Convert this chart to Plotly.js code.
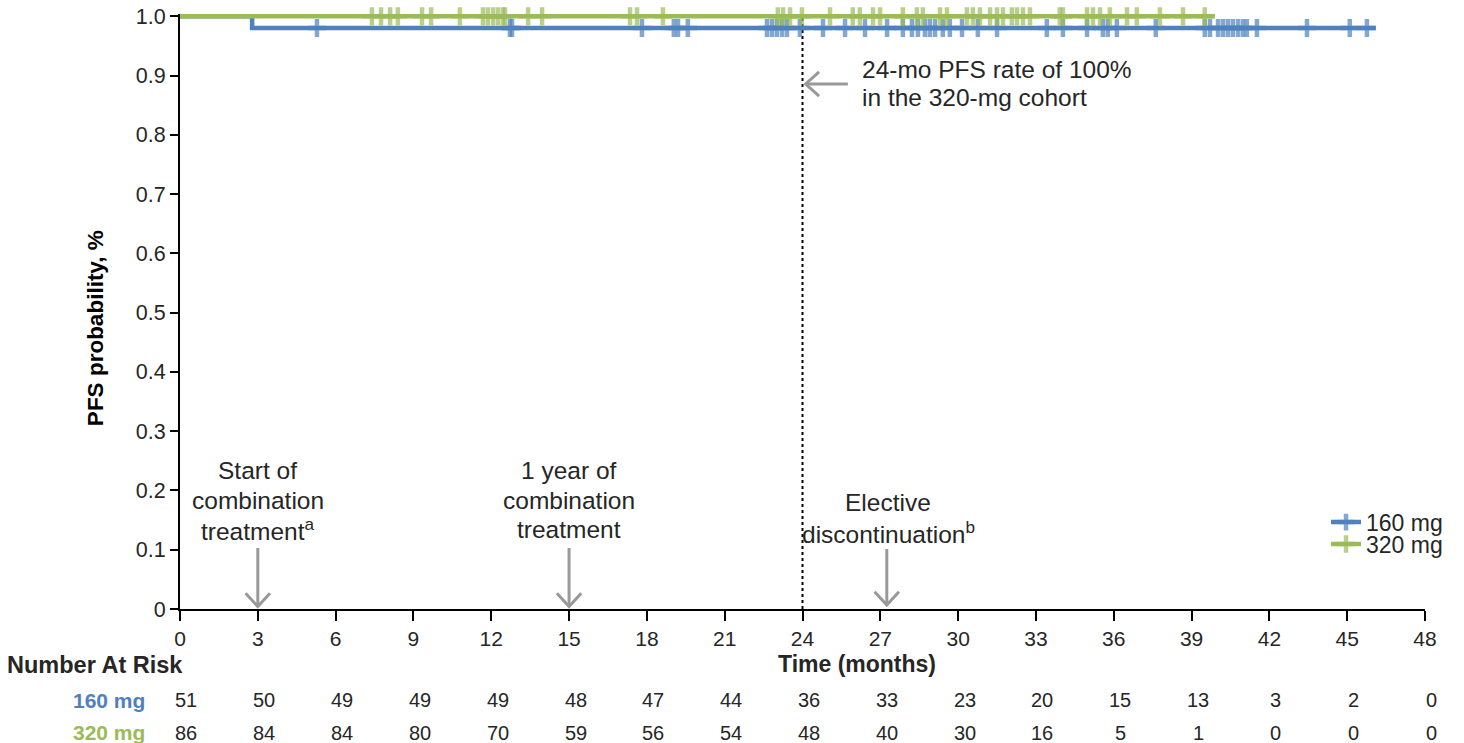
<!DOCTYPE html>
<html>
<head>
<meta charset="utf-8">
<script src="https://cdn.plot.ly/plotly-3.0.1.min.js"></script>
<style>html,body{margin:0;padding:0;background:#fff;}#chart{width:1464px;height:743px;}</style>
</head>
<body>
<div id="chart"></div>
<script>
// ---- data ----
const months = [0,3,6,9,12,15,18,21,24,27,30,33,36,39,42,45,48];
const yTickVals = [0,0.1,0.2,0.3,0.4,0.5,0.6,0.7,0.8,0.9,1.0];
const yTickText = ['0','0.1','0.2','0.3','0.4','0.5','0.6','0.7','0.8','0.9','1.0'];
const seriesNames = ['160 mg','320 mg'];
const risk160 = [51,50,49,49,49,48,47,44,36,33,23,20,15,13,3,2,0];
const risk320 = [86,84,84,80,70,59,56,54,48,40,30,16,5,1,0,0,0];

const eventTimes160 = [2.78];
const survival160 = [0.9804];
const censor160 = [5.28,12.72,12.80,17.81,19.04,19.20,19.58,22.63,22.82,23.01,23.21,23.40,23.90,24.79,25.64,26.41,27.26,27.87,28.22,28.45,28.72,28.91,29.11,29.41,29.68,30.15,30.76,31.50,33.42,34.04,34.97,35.58,35.77,36.12,37.62,39.51,39.71,40.02,40.21,40.40,40.59,40.79,40.98,41.13,41.52,43.45,45.10,45.76];
const lastTime160 = 46.1;

const eventTimes320 = [];
const survival320 = [];
const censor320 = [7.40,7.75,8.10,8.40,9.33,9.68,10.79,11.68,11.87,12.07,12.26,12.45,12.53,13.42,13.96,17.35,17.62,18.62,23.05,23.25,23.52,23.98,25.06,25.94,26.21,26.72,26.99,27.87,28.41,28.64,29.30,29.57,30.34,30.57,30.84,31.23,31.50,31.73,32.07,32.27,32.50,32.77,33.92,34.04,34.97,35.20,35.47,35.85,36.51,36.89,37.78,38.67,39.51];
const lastTime320 = 39.9;

const BLUE = '#4F81BD';
const GREEN = '#9BBB59';
const FONT = 'Liberation Sans, Arial, Helvetica, sans-serif';
const TXT = '#262626';
const ARROW = '#999999';

function survAt(t, ev, sv) {
  let s = 1;
  for (let i = 0; i < ev.length; i++) if (ev[i] <= t) s = sv[i];
  return s;
}
function buildKM(ev, sv, cens, last) {
  const pts = [{x: 0, y: 1, s: 0, o: 0}];
  ev.forEach((t, i) => {
    pts.push({x: t, y: i ? sv[i - 1] : 1, s: 0, o: 0});
    pts.push({x: t, y: sv[i], s: 0, o: 1});
  });
  cens.forEach(t => pts.push({x: t, y: survAt(t, ev, sv), s: 13, o: 2}));
  pts.push({x: last, y: survAt(last, ev, sv), s: 0, o: 3});
  pts.sort((a, b) => a.x - b.x || a.o - b.o);
  return pts;
}
function kmTrace(name, color, ev, sv, cens, last, legendId) {
  const p = buildKM(ev, sv, cens, last);
  return {
    type: 'scatter', mode: 'lines+markers', name: name, legend: legendId,
    x: p.map(d => d.x), y: p.map(d => d.y),
    line: {color: color, width: 4.5},
    marker: {symbol: 'cross-thin-open', size: p.map(d => d.s), color: color, line: {width: 4.5, color: color}},
    cliponaxis: false, hoverinfo: 'skip'
  };
}

const traces = [
  kmTrace(seriesNames[0], BLUE, eventTimes160, survival160, censor160, lastTime160, 'legend'),
  kmTrace(seriesNames[1], GREEN, eventTimes320, survival320, censor320, lastTime320, 'legend2')
];

const annotations = [];
// risk table
const rowY = [-0.153, -0.208];
[risk160, risk320].forEach((row, r) => {
  row.forEach((v, i) => {
    annotations.push({xref: 'paper', yref: 'paper', x: (months[i] + 0.25) / 48, y: rowY[r], text: String(v),
      showarrow: false, xanchor: 'center', yanchor: 'middle', font: {family: FONT, size: 20, color: TXT}});
  });
});
annotations.push({xref: 'paper', yref: 'paper', x: -0.0265, y: rowY[0], text: '<b>' + seriesNames[0] + '</b>', showarrow: false,
  xanchor: 'right', yanchor: 'middle', font: {family: FONT, size: 21, color: BLUE}});
annotations.push({xref: 'paper', yref: 'paper', x: -0.0265, y: rowY[1], text: '<b>' + seriesNames[1] + '</b>', showarrow: false,
  xanchor: 'right', yanchor: 'middle', font: {family: FONT, size: 21, color: GREEN}});
annotations.push({xref: 'paper', yref: 'paper', x: -0.1406, y: -0.094, text: '<b>Number At Risk</b>', showarrow: false,
  xanchor: 'left', yanchor: 'middle', font: {family: FONT, size: 23.5, color: TXT}});
annotations.push({xref: 'paper', yref: 'paper', x: 0.5438, y: -0.093, text: '<b>Time (months)</b>', showarrow: false,
  xanchor: 'center', yanchor: 'middle', font: {family: FONT, size: 23, color: TXT}});
// y-axis title
annotations.push({xref: 'paper', yref: 'paper', x: -0.0683, y: 0.472, text: '<b>PFS probability, %</b>', showarrow: false,
  textangle: -90, xanchor: 'center', yanchor: 'middle', font: {family: FONT, size: 22.5, color: '#000'}});

// text notes, one line each
const noteFont = {family: FONT, size: 24.5, color: TXT};
function note(x, y, text, anchor) {
  annotations.push({xref: 'x', yref: 'y', x: x, y: y, text: text, showarrow: false,
    xanchor: anchor || 'center', yanchor: 'middle', font: noteFont});
}
note(3, 0.2329, 'Start of');
note(3, 0.1839, 'combination');
note(3, 0.1350, 'treatment<sup>a</sup>');
note(15, 0.2329, '1 year of');
note(15, 0.1839, 'combination');
note(15, 0.1350, 'treatment');
note(27.3, 0.1789, 'Elective');
note(27.3, 0.1299, 'discontinuation<sup>b</sup>');
note(26.2, 0.9096, '24-mo PFS rate of 100%', 'left');
note(26.2, 0.8623, 'in the 320-mg cohort', 'left');

// arrows as shapes
const shapes = [{type: 'line', xref: 'x', yref: 'y', x0: 24, x1: 24, y0: 0, y1: 1.0,
  line: {color: '#000', width: 2, dash: 'dot'}, layer: 'below'}];
function downArrow(x, yTail, yTip) {
  shapes.push({type: 'line', xref: 'x', yref: 'y', x0: x, x1: x, y0: yTail, y1: yTip + 0.002, line: {color: ARROW, width: 3}});
  shapes.push({type: 'path', xref: 'x', yref: 'y',
    path: `M${x - 0.47},${yTip + 0.0225} L${x},${yTip} L${x + 0.47},${yTip + 0.0225}`, line: {color: ARROW, width: 3}});
}
function leftArrow(xTip, xTail, y) {
  shapes.push({type: 'line', xref: 'x', yref: 'y', x0: xTail, x1: xTip + 0.05, y0: y, y1: y, line: {color: ARROW, width: 3}});
  shapes.push({type: 'path', xref: 'x', yref: 'y',
    path: `M${xTip + 0.52},${y + 0.0205} L${xTip},${y} L${xTip + 0.52},${y - 0.0205}`, line: {color: ARROW, width: 3}});
}
downArrow(3, 0.1029, 0.004);
downArrow(15, 0.1029, 0.004);
downArrow(27.25, 0.1012, 0.0067);
leftArrow(24.12, 25.75, 0.8859);

const legendBase = {xanchor: 'left', yanchor: 'middle', bgcolor: 'rgba(0,0,0,0)',
  font: {family: FONT, size: 23, color: TXT}, itemwidth: 30, borderwidth: 0};

const layout = {
  width: 1464, height: 743,
  margin: {l: 180, r: 39, t: 14, b: 134},
  paper_bgcolor: '#fff', plot_bgcolor: '#fff',
  font: {family: FONT, size: 21, color: TXT},
  showlegend: true,
  legend: Object.assign({x: 0.9205, y: 0.146}, legendBase),
  legend2: Object.assign({x: 0.9205, y: 0.109}, legendBase),
  xaxis: {range: [0, 48], tickvals: months, ticktext: months.map(String), ticks: 'outside', ticklen: 10, tickwidth: 2,
    tickcolor: '#000', showline: true, linecolor: '#000', linewidth: 2, showgrid: false, zeroline: false,
    tickfont: {family: FONT, size: 21, color: TXT}, fixedrange: true},
  yaxis: {range: [0, 1.004], tickvals: yTickVals, ticktext: yTickText, ticks: 'outside', ticklen: 8, tickwidth: 2,
    tickcolor: '#000', showline: true, linecolor: '#000', linewidth: 2, showgrid: false, zeroline: false,
    tickfont: {family: FONT, size: 21.5, color: TXT}, fixedrange: true},
  shapes: shapes,
  annotations: annotations,
  hovermode: false
};

Plotly.newPlot('chart', traces, layout, {displayModeBar: false, staticPlot: true});
</script>
</body>
</html>
